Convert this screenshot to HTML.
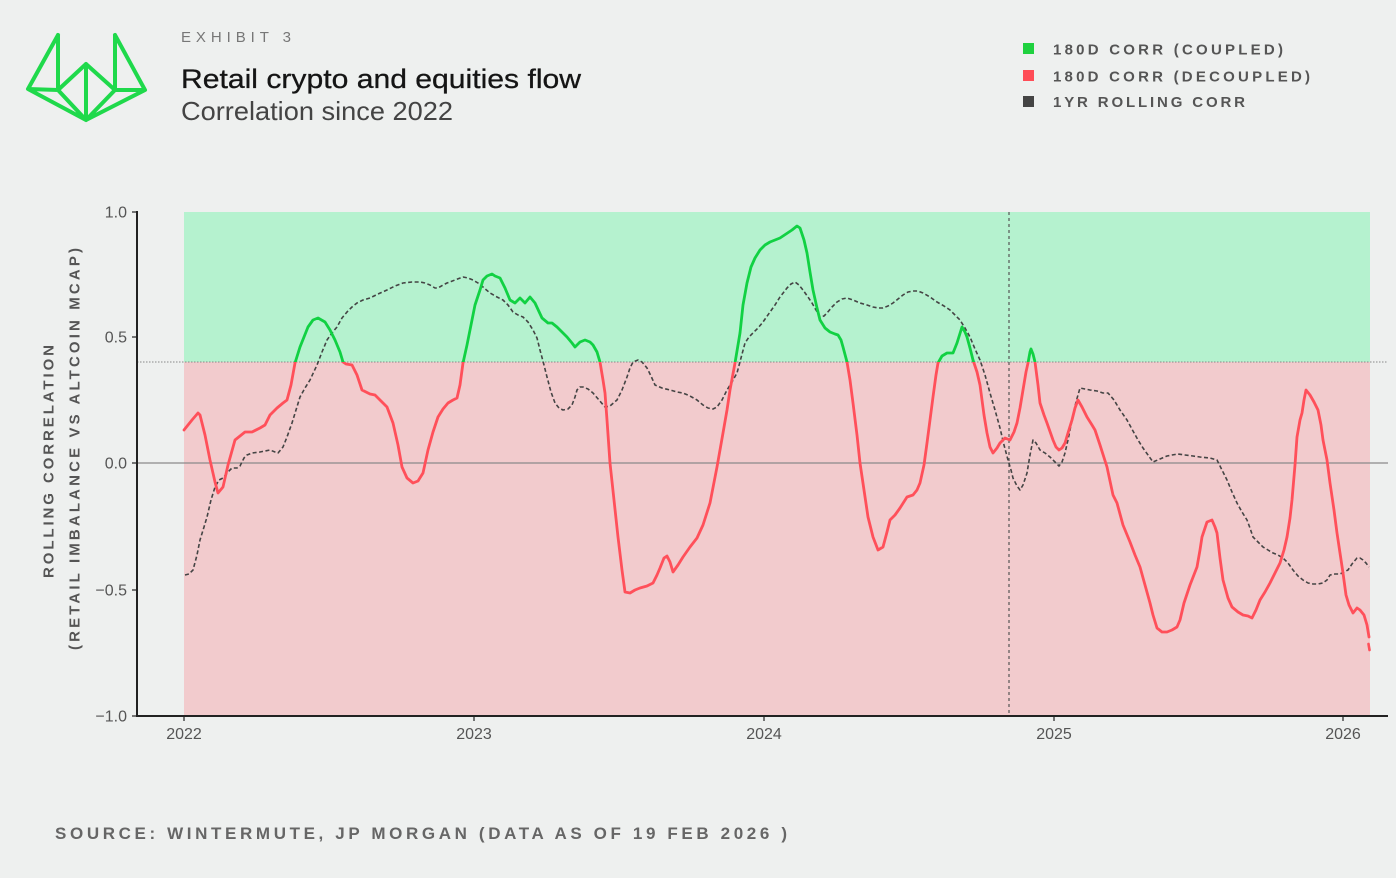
<!DOCTYPE html>
<html>
<head>
<meta charset="utf-8">
<style>
  html,body{margin:0;padding:0;background:#eef0ef;}
  svg{display:block;}
  text{font-family:"Liberation Sans",sans-serif;}
</style>
</head>
<body>
<svg width="1396" height="878" viewBox="0 0 1396 878" xmlns="http://www.w3.org/2000/svg">
  <rect x="0" y="0" width="1396" height="878" fill="#eef0ef"/>

  <!-- Logo -->
  <g fill="none" stroke="#1fd94b" stroke-width="4" stroke-linejoin="round" stroke-linecap="round">
    <path d="M58,35 L58,90 M58,35 L28,89 L58,90 M28,89 L86,120 M58,90 L86,64 L115,90 L86,120 L58,90 M86,64 L86,120 M115,35 L115,90 M115,35 L145,90 L115,90 M145,90 L86,120"/>
  </g>

  <!-- Titles -->
  <text x="181" y="42" font-size="15" fill="#777" textLength="110" lengthAdjust="spacing">EXHIBIT 3</text>
  <text x="181" y="88" font-size="27" fill="#151515" stroke="#151515" stroke-width="0.3" textLength="400" lengthAdjust="spacingAndGlyphs">Retail crypto and equities flow</text>
  <text x="181" y="120" font-size="26" fill="#444" textLength="272" lengthAdjust="spacingAndGlyphs">Correlation since 2022</text>

  <!-- Legend -->
  <rect x="1023" y="43" width="11" height="11" fill="#1fd13f"/>
  <rect x="1023" y="70" width="11" height="11" fill="#ff4d57"/>
  <rect x="1023" y="96" width="11" height="11" fill="#444"/>
  <g font-size="15" font-weight="bold" fill="#555">
    <text x="1053" y="54.5" textLength="230" lengthAdjust="spacing">180D CORR (COUPLED)</text>
    <text x="1053" y="81.5" textLength="257" lengthAdjust="spacing">180D CORR (DECOUPLED)</text>
    <text x="1053" y="107" textLength="192" lengthAdjust="spacing">1YR ROLLING CORR</text>
  </g>

  <!-- Shaded regions -->
  <rect x="184" y="212" width="1186" height="150" fill="#b5f2cf"/>
  <rect x="184" y="362" width="1186" height="354" fill="#f2cbcd"/>

  <!-- Reference lines -->
  <line x1="137" y1="362" x2="1388" y2="362" stroke="#888" stroke-width="1" stroke-dasharray="1.5,1.5"/>
  <line x1="137" y1="463" x2="1388" y2="463" stroke="#8a8a8a" stroke-width="1.2"/>
  <line x1="1009" y1="212" x2="1009" y2="716" stroke="#555" stroke-width="1.2" stroke-dasharray="3,3"/>

  <defs>
    <clipPath id="above"><rect x="0" y="0" width="1396" height="362"/></clipPath>
    <clipPath id="below"><rect x="0" y="362" width="1396" height="516"/></clipPath>
  </defs>

  <!-- 1yr rolling corr dashed -->
  <polyline fill="none" stroke="#444" stroke-width="1.6" stroke-dasharray="4,2.5" stroke-linejoin="round"
    points="185,575 189,574 193,570 197,555 200,540 204,527 207,517 211,500 215,487 219,480 223,478 228,472 232,468 237,468 240,466 244,458 247,455 252,453 260,452 265,451 270,450 275,452 278,453 283,447 287,437 292,423 296,410 300,397 305,388 310,380 317,365 322,352 327,340 332,333 337,327 342,318 347,312 352,307 357,303 363,300 370,298 378,294 387,290 395,286 403,283 412,282 420,282 425,283 430,285 435,288 438,288 443,285 447,283 455,280 463,277 468,278 473,280 478,283 483,287 490,293 497,297 503,300 508,305 513,312 518,315 523,317 528,322 533,330 537,338 540,350 544,365 547,377 551,392 555,403 559,408 563,410 568,409 572,405 575,397 577,390 580,387 583,387 588,389 593,393 599,400 605,407 610,406 617,400 622,390 627,377 630,368 633,362 638,360 642,362 647,368 651,376 655,385 662,388 670,390 677,392 683,393 690,396 697,400 703,405 708,408 713,409 717,407 722,400 727,390 732,382 737,373 741,358 745,343 749,337 753,333 758,328 763,322 770,312 775,305 780,297 787,288 791,284 795,282 799,285 803,290 808,297 812,303 816,310 820,317 824,316 827,313 832,307 837,302 842,299 847,298 853,300 860,303 867,305 873,307 878,308 883,308 888,306 893,303 898,299 903,295 908,292 913,291 918,291 923,293 930,297 937,302 944,306 950,310 955,315 960,320 965,328 970,337 975,349 980,360 985,375 990,393 995,410 1000,428 1004,445 1008,460 1011,470 1013,478 1017,486 1020,490 1023,485 1027,473 1030,455 1033,440 1036,443 1040,450 1045,453 1050,457 1055,462 1059,466 1062,462 1065,453 1068,440 1072,420 1076,402 1080,388 1085,389 1090,390 1097,391 1103,393 1108,393 1114,400 1120,410 1127,420 1133,431 1138,440 1143,448 1148,455 1153,462 1160,459 1167,456 1172,455 1178,454 1185,455 1193,456 1200,457 1210,458 1217,460 1222,470 1227,480 1232,492 1237,503 1242,512 1247,520 1250,528 1253,537 1258,542 1263,547 1268,550 1273,553 1278,555 1283,558 1288,563 1293,570 1298,576 1303,580 1308,583 1313,584 1318,584 1323,583 1327,580 1330,575 1335,574 1340,574 1344,572 1348,570 1352,564 1357,558 1360,558 1363,560 1366,563 1369,567"/>

  <!-- 180D corr line -->
  <g id="corr">
    <polyline id="corrline" fill="none" stroke-width="2.8" stroke-linejoin="round" stroke-linecap="round"
      points="184,430 192,420 198,413 200,415 205,435 210,460 215,482 218,493 223,487 228,465 235,440 245,432 252,432 260,428 265,425 270,415 277,408 283,403 287,400 291,385 295,363 300,347 308,327 313,320 318,318 325,322 330,330 335,340 340,352 343,362 346,364 352,365 357,375 362,390 370,394 375,395 380,400 387,407 393,423 398,445 402,467 407,478 413,483 418,481 423,473 428,450 433,432 438,417 443,409 448,403 453,400 457,398 460,385 463,363 467,345 470,330 475,305 480,290 483,280 487,276 492,274 495,276 500,278 505,288 510,300 515,303 520,298 525,303 530,297 535,303 542,318 548,323 552,323 557,327 562,332 567,337 572,343 575,347 580,342 585,340 590,342 593,345 597,352 600,362 603,380 605,393 607,420 610,463 614,500 618,537 622,570 625,592 630,593 635,590 640,588 647,586 653,583 657,575 660,568 664,558 667,556 670,562 673,572 678,565 683,557 690,547 697,538 703,525 710,503 717,467 723,433 727,410 730,390 735,363 740,333 743,305 747,283 751,267 755,258 760,250 765,245 770,242 775,240 780,238 786,234 792,230 797,226 800,228 804,240 807,253 810,272 813,290 817,308 820,320 825,328 830,332 835,334 838,335 841,340 843,347 847,362 850,380 853,403 857,435 860,463 864,490 868,517 873,537 878,550 883,547 887,532 890,520 895,515 900,508 907,497 913,495 917,490 920,483 924,465 927,443 930,420 933,397 936,375 938,363 942,356 947,353 953,353 957,343 962,327 965,332 967,337 970,348 973,360 977,372 980,385 984,415 987,433 990,447 993,453 997,448 1000,443 1005,438 1010,440 1014,432 1017,423 1020,408 1023,390 1026,372 1028,363 1030,352 1031,349 1033,354 1035,362 1038,385 1040,403 1044,415 1047,423 1053,440 1056,447 1059,450 1062,448 1065,443 1068,433 1072,420 1075,408 1078,400 1082,407 1087,417 1092,425 1095,430 1100,445 1107,467 1113,495 1117,503 1123,525 1130,542 1135,555 1140,567 1145,585 1150,603 1153,615 1157,628 1162,632 1167,632 1172,630 1177,627 1180,620 1184,603 1190,585 1197,567 1200,550 1202,537 1207,522 1212,520 1215,527 1217,533 1220,558 1223,580 1228,598 1232,607 1238,612 1243,615 1248,616 1252,618 1256,610 1260,600 1265,592 1270,583 1275,573 1280,563 1284,550 1287,537 1290,518 1292,500 1295,465 1297,437 1300,420 1302,413 1304,400 1306,390 1310,395 1314,402 1318,410 1321,425 1323,440 1327,460 1330,483 1334,510 1337,533 1340,553 1343,573 1346,595 1349,605 1353,613 1357,608 1360,610 1364,615 1367,625 1369,637"/>
  </g>
  <use href="#corrline" stroke="#ff505a" clip-path="url(#below)"/>
  <use href="#corrline" stroke="#11d143" stroke-width="3.2" clip-path="url(#above)"/>
  <line x1="1368.5" y1="644" x2="1369.5" y2="650" stroke="#ff505a" stroke-width="2.6" stroke-linecap="round"/>

  <!-- Axes -->
  <line x1="137" y1="211" x2="137" y2="717" stroke="#222" stroke-width="2"/>
  <line x1="136" y1="716" x2="1388" y2="716" stroke="#222" stroke-width="2"/>
  <g stroke="#222" stroke-width="1.2">
    <line x1="132" y1="212" x2="137" y2="212"/>
    <line x1="132" y1="337" x2="137" y2="337"/>
    <line x1="132" y1="463" x2="137" y2="463"/>
    <line x1="132" y1="590" x2="137" y2="590"/>
    <line x1="132" y1="716" x2="137" y2="716"/>
    <line x1="184" y1="716" x2="184" y2="721"/>
    <line x1="474" y1="716" x2="474" y2="721"/>
    <line x1="764" y1="716" x2="764" y2="721"/>
    <line x1="1054" y1="716" x2="1054" y2="721"/>
    <line x1="1343" y1="716" x2="1343" y2="721"/>
  </g>
  <g font-size="16" fill="#555" text-anchor="end">
    <text x="127" y="217.5">1.0</text>
    <text x="127" y="342.5">0.5</text>
    <text x="127" y="468.5">0.0</text>
    <text x="127" y="595.5">−0.5</text>
    <text x="127" y="721.5">−1.0</text>
  </g>
  <g font-size="16" fill="#555" text-anchor="middle">
    <text x="184" y="739">2022</text>
    <text x="474" y="739">2023</text>
    <text x="764" y="739">2024</text>
    <text x="1054" y="739">2025</text>
    <text x="1343" y="739">2026</text>
  </g>

  <!-- Y axis label -->
  <text transform="translate(53.5,461.5) rotate(-90)" font-size="15" font-weight="bold" fill="#555" text-anchor="middle" textLength="233" lengthAdjust="spacing">ROLLING CORRELATION</text>
  <text transform="translate(79.5,449) rotate(-90)" font-size="15" font-weight="bold" fill="#555" text-anchor="middle" textLength="402" lengthAdjust="spacing">(RETAIL IMBALANCE VS ALTCOIN MCAP)</text>

  <!-- Source -->
  <text x="55" y="839" font-size="17" font-weight="bold" fill="#666" textLength="732" lengthAdjust="spacing">SOURCE: WINTERMUTE, JP MORGAN (DATA AS OF 19 FEB 2026 )</text>
</svg>
</body>
</html>
